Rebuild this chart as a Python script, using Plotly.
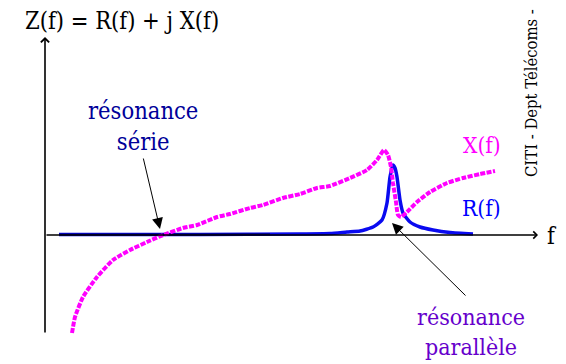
# Impédance d'un quartz : Z(f) = R(f) + j X(f)
import plotly.graph_objects as go

# la page ajoute une marge de 8 px autour de la figure
OFF = 8
W, H = 566 - OFF, 364 - OFF

# réactance X(f) (unités arbitraires)
x_f = [0.54, 0.60, 0.76, 1.04, 1.36, 1.70, 2.04, 2.36, 2.76, 3.04, 3.44, 3.70,
       4.10, 4.36, 4.76, 5.10, 5.44, 5.70, 6.10, 6.44, 6.64, 6.78, 6.86, 6.92,
       6.96, 7.02, 7.06, 7.12, 7.24, 7.44, 7.70, 8.04, 8.36, 8.70, 9.00]
x_val = [-9.8, -8.2, -6.2, -4.2, -2.5, -1.5, -0.7, 0.0, 0.7, 1.0, 1.8, 2.1,
         2.7, 3.0, 3.7, 4.1, 4.7, 4.9, 5.7, 6.5, 7.5, 8.5, 8.0, 6.8,
         5.2, 3.3, 2.0, 1.8, 2.3, 3.3, 4.3, 5.2, 5.7, 6.1, 6.4]

# résistance R(f)
r_f = [0.28, 3.10, 5.10, 5.70, 6.04, 6.30, 6.56, 6.74, 6.84, 6.90, 6.96, 7.00,
       7.04, 7.10, 7.16, 7.30, 7.50, 7.76, 8.10, 8.56]
r_val = [0.05, 0.05, 0.10, 0.15, 0.30, 0.40, 0.80, 1.50, 3.20, 5.80, 7.00, 6.70,
         5.80, 3.50, 2.20, 1.30, 0.80, 0.50, 0.25, 0.10]

# partie plate de R (trait foncé)
r_flat_f = [0.28, 3.10, 4.50]
r_flat_val = [0.05, 0.05, 0.07]

SERIF = "DejaVu Serif Condensed"

fig = go.Figure()

fig.add_trace(go.Scatter(x=r_f, y=r_val, mode="lines",
                         line=dict(color="#0a0af0", width=3.5, shape="spline", smoothing=0.5),
                         hoverinfo="skip"))
fig.add_trace(go.Scatter(x=r_flat_f, y=r_flat_val, mode="lines",
                         line=dict(color="#000080", width=2),
                         hoverinfo="skip"))
fig.add_trace(go.Scatter(x=x_f, y=x_val, mode="lines",
                         line=dict(color="#ff00ff", width=4, dash="5px,1.5px",
                                   shape="spline", smoothing=0.5),
                         hoverinfo="skip"))


def px(x, y):
    # position en pixels de la page -> coordonnées papier
    return (x - OFF) / W, 1 - (y - OFF) / H


def label(text, x, y, color, size=23.5, angle=0):
    xp, yp = px(x, y)
    fig.add_annotation(text=text, xref="paper", yref="paper", x=xp, y=yp,
                       xanchor="center", yanchor="middle", showarrow=False,
                       textangle=angle, font=dict(family=SERIF, size=size, color=color))


# axes avec flèches
fig.add_annotation(x=0, y=19.8, ax=0, ay=-9.9, xref="x", yref="y", axref="x", ayref="y",
                   text="", showarrow=True, arrowhead=4, arrowwidth=1.6, arrowsize=1,
                   arrowcolor="black")
fig.add_annotation(x=9.86, y=0, ax=0, ay=0, xref="x", yref="y", axref="x", ayref="y",
                   text="", showarrow=True, arrowhead=4, arrowwidth=1.4, arrowsize=1,
                   arrowcolor="black")

# flèches des résonances
xp, yp = px(160, 229)
fig.add_annotation(x=xp, y=yp, xref="paper", yref="paper", ax=-17, ay=-72, text="",
                   showarrow=True, arrowhead=2, arrowwidth=1, arrowsize=2.2, arrowcolor="black")
xp, yp = px(392, 223)
fig.add_annotation(x=xp, y=yp, xref="paper", yref="paper", ax=75, ay=74, text="",
                   showarrow=True, arrowhead=2, arrowwidth=1, arrowsize=2.2, arrowcolor="black")

label("Z(f) = R(f) + j X(f)", 122, 21, "black")
label("résonance<br>série", 143, 126, "#000099")
label("X(f)", 482, 145, "#ff00ff", 22.5)
label("R(f)", 481, 208, "#0000ff", 22.5)
label("f", 552, 236, "black")
label("résonance<br>parallèle", 471, 332, "#6600cc", 23)
label("CITI - Dept Télécoms -", 532, 93, "black", 16.5, -90)

# f = 0 à x = 45 px, Z = 0 à y = 235 px (50 px par unité de f, 10 px par unité de Z)
fig.update_layout(
    width=W, height=H,
    margin=dict(l=0, r=0, t=0, b=0),
    paper_bgcolor="white", plot_bgcolor="white",
    showlegend=False,
    xaxis=dict(range=[-(45 - OFF) / 50, (566 - 45) / 50], visible=False, fixedrange=True),
    yaxis=dict(range=[-(364 - 235) / 10, (235 - OFF) / 10], visible=False, fixedrange=True),
)

fig.write_html("out.html")
